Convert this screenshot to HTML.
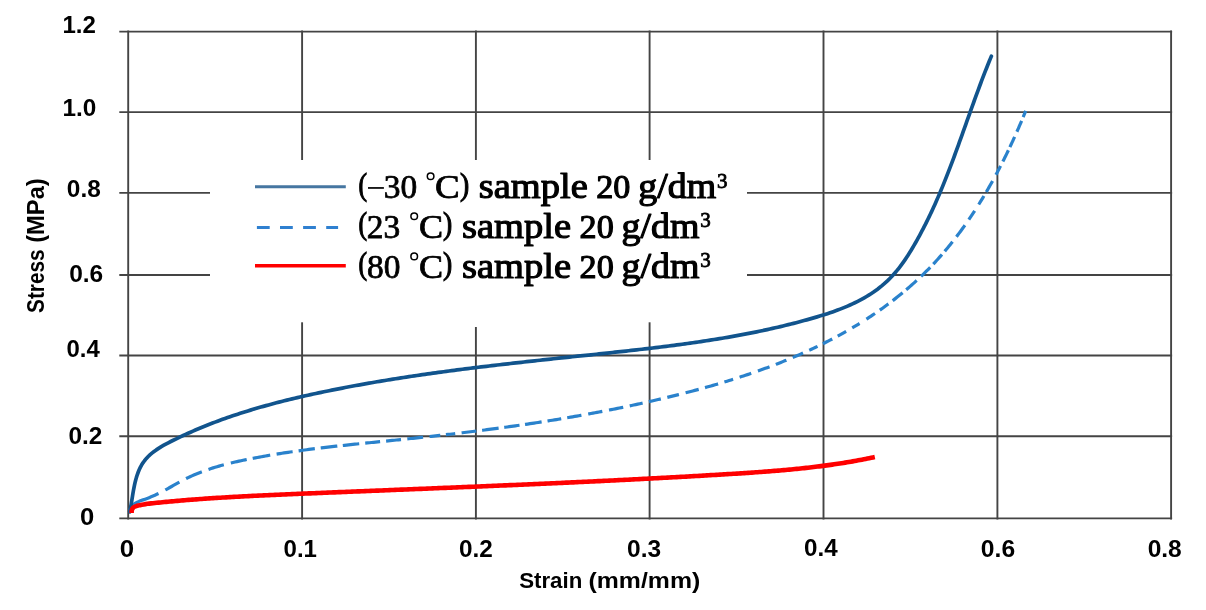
<!DOCTYPE html>
<html><head><meta charset="utf-8"><style>
html,body{margin:0;padding:0;background:#fff;}
body{width:1206px;height:610px;overflow:hidden;}
svg{display:block;will-change:transform;filter:blur(0.5px);}
text{fill:#000;}
</style></head><body>
<svg width="1206" height="610" viewBox="0 0 1206 610">
<rect x="0" y="0" width="1206" height="610" fill="#fff"/>
<g stroke="#444444" stroke-width="1.9" fill="none">
<line x1="119.3" y1="31.6" x2="1172.1" y2="31.6"/>
<line x1="119.3" y1="112.1" x2="1172.1" y2="112.1"/>
<line x1="119.3" y1="192.9" x2="1172.1" y2="192.9"/>
<line x1="119.3" y1="275.0" x2="1172.1" y2="275.0"/>
<line x1="119.3" y1="355.5" x2="1172.1" y2="355.5"/>
<line x1="119.3" y1="436.2" x2="1172.1" y2="436.2"/>
<line x1="119.3" y1="518.4" x2="1172.1" y2="518.4"/>
<line x1="128.2" y1="30.6" x2="128.2" y2="519.4"/>
<line x1="302.1" y1="30.6" x2="302.1" y2="519.4"/>
<line x1="475.9" y1="30.6" x2="475.9" y2="519.4"/>
<line x1="649.6" y1="30.6" x2="649.6" y2="519.4"/>
<line x1="823.5" y1="30.6" x2="823.5" y2="519.4"/>
<line x1="997.4" y1="30.6" x2="997.4" y2="519.4"/>
<line x1="1171.1" y1="30.6" x2="1171.1" y2="519.4"/>
</g>
<rect x="210" y="160" width="537" height="162.3" fill="#fff"/>
<rect x="473" y="320" width="6" height="7" fill="#fff"/>
<g fill="none" stroke-linejoin="round" stroke-linecap="round">
<path d="M129.47,510.88 L130.16,508.81 L131.14,507.04 L132.38,505.53 L133.83,504.24 L135.47,503.14 L137.26,502.18 L139.16,501.35 L141.13,500.59 L143.14,499.87 L145.16,499.15 L147.15,498.41 L149.12,497.64 L151.07,496.85 L152.99,496.03 L154.90,495.18 L156.79,494.30 L158.67,493.40 L160.54,492.47 L162.40,491.51 L164.25,490.53 L166.09,489.54 L167.93,488.53 L169.76,487.51 L171.59,486.49 L173.41,485.47 L175.24,484.44 L177.07,483.42 L178.90,482.41 L180.73,481.41 L182.57,480.43 L184.42,479.47 L186.27,478.53 L188.14,477.61 L190.01,476.73 L191.89,475.87 L193.78,475.03 L195.68,474.22 L197.58,473.43 L199.50,472.67 L201.42,471.93 L203.35,471.20 L205.28,470.50 L207.22,469.83 L209.17,469.17 L211.13,468.52 L213.09,467.90 L215.06,467.30 L217.03,466.71 L219.01,466.14 L221.00,465.58 L222.99,465.04 L224.98,464.51 L226.98,464.00 L228.98,463.49 L230.99,463.01 L233.00,462.53 L235.02,462.06 L237.03,461.60 L239.05,461.16 L241.08,460.72 L243.10,460.29 L245.13,459.87 L247.16,459.45 L249.19,459.04 L251.23,458.64 L253.26,458.24 L255.30,457.85 L257.34,457.46 L259.38,457.08 L261.43,456.71 L263.47,456.34 L265.52,455.98 L267.57,455.62 L269.61,455.27 L271.67,454.92 L273.72,454.58 L275.77,454.24 L277.83,453.91 L279.88,453.58 L281.94,453.26 L284.00,452.94 L286.06,452.63 L288.12,452.32 L290.19,452.02 L292.25,451.72 L294.31,451.42 L296.38,451.13 L298.45,450.84 L300.52,450.56 L302.58,450.28 L304.65,450.00 L306.72,449.73 L308.80,449.46 L310.87,449.20 L312.94,448.93 L315.02,448.68 L317.09,448.42 L319.16,448.17 L321.24,447.92 L323.66,447.63 L325.74,447.39 L327.82,447.14 L329.90,446.91 L331.97,446.67 L334.05,446.43 L336.13,446.20 L338.21,445.97 L340.29,445.75 L342.37,445.52 L344.45,445.30 L346.53,445.07 L348.61,444.85 L350.69,444.63 L352.77,444.42 L354.85,444.20 L356.93,443.99 L359.01,443.77 L361.09,443.56 L363.17,443.35 L365.25,443.14 L367.33,442.93 L369.41,442.72 L371.49,442.51 L373.56,442.30 L375.64,442.09 L377.72,441.88 L379.80,441.68 L381.87,441.47 L383.95,441.26 L386.03,441.05 L388.10,440.85 L390.18,440.64 L392.25,440.43 L394.32,440.22 L396.39,440.01 L398.46,439.80 L400.54,439.59 L402.60,439.38 L404.67,439.17 L406.74,438.95 L408.81,438.74 L410.87,438.52 L412.94,438.31 L415.00,438.09 L417.07,437.87 L419.13,437.65 L421.19,437.43 L423.25,437.21 L425.32,436.99 L427.38,436.76 L429.43,436.54 L431.49,436.31 L433.55,436.08 L435.61,435.86 L437.66,435.63 L439.72,435.40 L441.77,435.16 L443.83,434.93 L445.88,434.70 L447.93,434.46 L449.99,434.22 L452.04,433.98 L454.09,433.74 L456.14,433.50 L458.19,433.26 L460.24,433.02 L462.29,432.77 L464.34,432.52 L466.38,432.28 L468.43,432.03 L470.48,431.77 L472.52,431.52 L474.57,431.27 L476.61,431.01 L478.66,430.75 L480.70,430.49 L482.74,430.23 L484.79,429.97 L486.83,429.71 L488.87,429.44 L490.91,429.17 L492.95,428.90 L494.99,428.63 L497.03,428.36 L499.07,428.09 L501.11,427.81 L503.15,427.53 L505.19,427.25 L507.23,426.97 L509.27,426.69 L511.30,426.40 L513.34,426.11 L515.38,425.82 L517.42,425.53 L519.45,425.24 L521.49,424.94 L523.52,424.65 L525.56,424.35 L527.59,424.05 L529.97,423.69 L532.00,423.39 L534.04,423.08 L536.07,422.77 L538.11,422.46 L540.14,422.14 L542.17,421.82 L544.21,421.51 L546.24,421.18 L548.27,420.86 L550.31,420.54 L552.34,420.21 L554.37,419.88 L556.40,419.55 L558.44,419.21 L560.47,418.87 L562.50,418.53 L564.53,418.19 L566.57,417.85 L568.60,417.50 L570.63,417.15 L572.66,416.80 L574.69,416.45 L576.73,416.09 L578.76,415.73 L580.79,415.37 L582.82,415.01 L584.85,414.64 L586.89,414.27 L588.92,413.90 L590.95,413.52 L592.98,413.15 L595.01,412.77 L597.05,412.38 L599.08,412.00 L601.11,411.61 L603.14,411.22 L605.18,410.83 L607.21,410.43 L609.24,410.03 L611.28,409.63 L613.31,409.22 L615.34,408.82 L617.38,408.41 L619.41,407.99 L621.44,407.58 L623.48,407.16 L625.51,406.73 L627.55,406.31 L629.58,405.88 L631.62,405.45 L633.65,405.01 L635.69,404.58 L637.73,404.14 L639.76,403.69 L641.80,403.25 L643.84,402.80 L645.87,402.34 L647.91,401.89 L649.95,401.43 L651.99,400.96 L654.03,400.50 L656.06,400.03 L658.10,399.56 L660.14,399.08 L662.18,398.60 L664.22,398.12 L666.26,397.63 L668.30,397.14 L670.34,396.65 L672.38,396.15 L674.41,395.65 L676.45,395.14 L678.49,394.64 L680.53,394.12 L682.56,393.61 L684.60,393.09 L686.63,392.56 L688.67,392.03 L690.70,391.50 L692.73,390.96 L694.77,390.42 L696.80,389.88 L698.83,389.33 L700.86,388.77 L702.88,388.21 L704.91,387.65 L706.94,387.08 L708.96,386.51 L710.98,385.94 L713.01,385.36 L715.03,384.77 L717.05,384.18 L719.06,383.58 L721.08,382.99 L723.09,382.38 L725.10,381.77 L727.12,381.16 L729.12,380.54 L731.13,379.91 L733.47,379.18 L735.47,378.54 L737.47,377.90 L739.47,377.26 L741.47,376.60 L743.46,375.95 L745.45,375.29 L747.44,374.62 L749.43,373.95 L751.41,373.27 L753.40,372.58 L755.38,371.89 L757.35,371.20 L759.33,370.50 L761.30,369.79 L763.27,369.08 L765.23,368.36 L767.20,367.64 L769.16,366.91 L771.11,366.17 L773.07,365.43 L775.02,364.68 L776.97,363.93 L778.91,363.17 L780.85,362.40 L782.79,361.63 L784.72,360.85 L786.65,360.07 L788.58,359.28 L790.50,358.48 L792.43,357.67 L794.34,356.86 L796.25,356.05 L798.16,355.22 L800.07,354.39 L801.97,353.55 L803.87,352.71 L805.76,351.86 L807.65,351.00 L809.53,350.14 L811.41,349.26 L813.29,348.39 L815.16,347.50 L817.03,346.61 L818.89,345.71 L820.75,344.80 L822.61,343.89 L824.46,342.97 L826.30,342.04 L828.14,341.10 L829.98,340.16 L831.81,339.21 L833.63,338.25 L835.45,337.28 L837.27,336.31 L839.08,335.33 L840.89,334.34 L842.69,333.34 L844.48,332.34 L846.27,331.33 L848.06,330.31 L849.84,329.28 L851.61,328.25 L853.38,327.20 L855.14,326.15 L856.90,325.09 L858.65,324.02 L860.40,322.95 L862.14,321.86 L863.87,320.77 L865.60,319.67 L867.32,318.56 L869.04,317.44 L870.75,316.32 L872.46,315.18 L874.15,314.04 L875.85,312.89 L877.53,311.73 L879.21,310.56 L880.88,309.38 L882.55,308.19 L884.21,307.00 L885.86,305.79 L887.51,304.58 L889.15,303.36 L890.78,302.13 L892.41,300.89 L894.03,299.64 L895.64,298.38 L897.25,297.11 L898.85,295.84 L900.44,294.55 L902.02,293.25 L903.60,291.95 L905.17,290.63 L906.74,289.31 L908.29,287.98 L909.84,286.63 L911.38,285.28 L912.91,283.92 L914.69,282.32 L916.21,280.94 L917.72,279.54 L919.22,278.14 L920.71,276.73 L922.20,275.30 L923.68,273.87 L925.15,272.43 L926.61,270.98 L928.06,269.51 L929.51,268.04 L930.94,266.56 L932.37,265.06 L933.79,263.56 L935.20,262.05 L936.61,260.52 L938.00,258.99 L939.39,257.44 L940.77,255.89 L942.14,254.32 L943.50,252.74 L944.85,251.16 L946.20,249.56 L947.53,247.96 L948.86,246.35 L950.18,244.72 L951.49,243.09 L952.79,241.45 L954.08,239.80 L955.37,238.14 L956.65,236.48 L957.92,234.80 L959.18,233.12 L960.43,231.43 L961.67,229.73 L962.91,228.03 L964.14,226.32 L965.35,224.60 L966.57,222.87 L967.77,221.14 L968.96,219.40 L970.15,217.65 L971.33,215.90 L972.50,214.14 L973.66,212.38 L974.81,210.61 L975.96,208.84 L977.10,207.06 L978.23,205.27 L979.35,203.48 L980.46,201.68 L981.57,199.88 L982.67,198.08 L983.76,196.27 L984.84,194.46 L985.91,192.64 L986.98,190.82 L988.04,188.99 L989.09,187.16 L990.13,185.33 L991.16,183.50 L992.19,181.66 L993.21,179.82 L994.22,177.98 L995.22,176.13 L996.22,174.28 L997.21,172.43 L998.19,170.58 L999.16,168.72 L1000.12,166.87 L1001.08,165.01 L1002.03,163.15 L1002.97,161.29 L1003.91,159.43 L1004.83,157.57 L1005.75,155.71 L1006.66,153.85 L1007.56,151.98 L1008.46,150.12 L1009.35,148.26 L1010.23,146.40 L1011.10,144.53 L1011.97,142.67 L1012.83,140.81 L1013.68,138.95 L1014.52,137.09 L1015.36,135.23 L1016.18,133.38 L1017.01,131.52 L1017.82,129.67 L1018.63,127.82 L1019.42,125.97 L1020.22,124.12 L1021.00,122.28 L1021.78,120.44 L1022.55,118.60 L1023.31,116.76 L1024.06,114.93 L1024.81,113.10 L1025.67,110.97" stroke="#2a82cc" stroke-width="3.2" stroke-dasharray="35.08 7.66 16.13 7.57 17.13 7.11 15.97 7.22 16.28 6.12 17.79 6.49 16.19 6.06 16.34 5.94 16.71 5.53 16.49 6.03 14.97 6.03 14.98 6.33 15.89 6.44 10.87 5.64 9.36 6.45 14.81 5.85 16.64 5.65 15.45 5.56 16.79 5.97 13.88 6.08 14.41 6.91 14.35 6.83 14.49 6.64 13.20 6.45 12.21 6.68 11.94 6.91 13.55 6.53 13.63 6.58 9.11 6.82 12.23 7.10 12.35 6.74 11.41 6.82 11.23 6.81 9.17 6.01 10.44 6.23 9.60 7.05 8.52 8.15 10.31 5.84 10.62 5.39 12.66 4.69 14.02 5.89 12.96 4.49 12.81 4.29 12.31 6.35 14.35 6.83 10.64 7.44 9.95 4.71 12.52 7.09 10.09 5.06 12.47 3.49 11.21 5.64 11.87 4.15 6.54 5000.00" stroke-linecap="butt"/>
<path d="M129.74,511.82 L130.25,509.35 L130.73,506.82 L131.18,504.23 L131.62,501.60 L132.04,498.93 L132.48,496.23 L132.92,493.52 L133.39,490.80 L133.89,488.08 L134.44,485.36 L135.03,482.67 L135.70,480.00 L136.43,477.37 L137.25,474.78 L138.17,472.25 L139.18,469.78 L140.31,467.38 L141.57,465.06 L142.96,462.84 L144.49,460.71 L146.16,458.69 L147.97,456.76 L149.90,454.92 L151.93,453.17 L154.06,451.49 L156.28,449.89 L158.58,448.36 L160.94,446.88 L163.35,445.47 L165.80,444.10 L168.28,442.79 L170.78,441.51 L173.29,440.26 L175.80,439.05 L178.28,437.86 L180.76,436.69 L183.22,435.54 L185.67,434.41 L188.11,433.30 L190.54,432.21 L192.98,431.13 L195.41,430.07 L197.84,429.03 L200.28,428.00 L202.72,426.99 L205.17,425.99 L207.63,425.00 L210.10,424.03 L212.57,423.07 L215.06,422.12 L217.54,421.19 L220.04,420.26 L222.54,419.35 L225.05,418.46 L227.57,417.57 L230.09,416.70 L232.62,415.84 L235.15,414.99 L237.69,414.15 L240.24,413.32 L242.79,412.50 L245.35,411.70 L247.91,410.90 L250.48,410.12 L253.05,409.34 L255.62,408.58 L258.21,407.83 L260.79,407.08 L263.38,406.35 L265.98,405.63 L268.58,404.91 L271.18,404.21 L273.79,403.51 L276.40,402.82 L279.01,402.14 L281.63,401.47 L284.25,400.81 L286.88,400.16 L289.50,399.51 L292.13,398.88 L294.76,398.25 L297.40,397.62 L300.04,397.01 L302.67,396.40 L305.32,395.80 L307.96,395.21 L310.60,394.62 L313.25,394.04 L315.90,393.47 L318.55,392.90 L321.20,392.34 L323.85,391.79 L326.50,391.24 L329.16,390.70 L331.81,390.16 L334.46,389.63 L337.12,389.10 L339.77,388.58 L342.43,388.06 L345.08,387.55 L347.74,387.04 L350.40,386.54 L353.06,386.05 L355.71,385.55 L358.37,385.07 L361.03,384.59 L363.69,384.11 L366.35,383.64 L369.01,383.17 L371.67,382.71 L374.33,382.25 L377.00,381.79 L379.66,381.34 L382.32,380.90 L384.98,380.46 L387.65,380.02 L390.31,379.59 L392.98,379.16 L395.64,378.73 L398.31,378.31 L400.97,377.90 L403.64,377.48 L406.30,377.07 L408.97,376.67 L411.64,376.27 L414.30,375.87 L416.97,375.48 L419.64,375.09 L422.31,374.70 L424.98,374.31 L427.65,373.93 L430.32,373.56 L432.99,373.18 L435.66,372.81 L438.33,372.44 L441.00,372.08 L443.67,371.72 L446.34,371.36 L449.02,371.00 L451.69,370.65 L454.36,370.30 L457.04,369.95 L459.71,369.61 L462.38,369.27 L465.06,368.93 L467.73,368.59 L470.41,368.26 L473.08,367.93 L475.76,367.60 L478.43,367.27 L481.11,366.94 L483.78,366.62 L486.46,366.30 L489.14,365.98 L491.81,365.66 L494.49,365.35 L497.17,365.03 L499.85,364.72 L502.53,364.41 L505.20,364.10 L507.88,363.80 L510.56,363.49 L513.24,363.19 L515.92,362.89 L518.60,362.59 L521.28,362.29 L523.96,361.99 L526.64,361.69 L529.32,361.40 L532.00,361.10 L534.68,360.81 L537.36,360.52 L540.04,360.23 L542.72,359.94 L545.40,359.65 L548.08,359.36 L550.77,359.07 L553.45,358.78 L556.13,358.49 L558.81,358.21 L561.49,357.92 L564.18,357.64 L566.86,357.35 L569.54,357.07 L572.22,356.78 L574.91,356.50 L577.59,356.21 L580.27,355.93 L582.96,355.64 L585.64,355.36 L588.32,355.08 L591.01,354.79 L593.69,354.51 L596.37,354.22 L599.06,353.94 L601.74,353.65 L604.43,353.36 L607.11,353.08 L609.79,352.79 L612.48,352.50 L615.16,352.21 L617.85,351.92 L620.53,351.63 L623.21,351.33 L625.90,351.04 L628.58,350.74 L631.26,350.44 L633.95,350.14 L636.63,349.84 L639.31,349.53 L641.99,349.22 L644.68,348.91 L647.36,348.60 L650.04,348.29 L652.72,347.97 L655.40,347.64 L658.08,347.32 L660.76,346.99 L663.44,346.66 L666.12,346.32 L668.79,345.99 L671.47,345.64 L674.15,345.30 L676.82,344.94 L679.50,344.59 L682.17,344.23 L684.85,343.86 L687.52,343.50 L690.19,343.12 L692.87,342.74 L695.54,342.36 L698.21,341.97 L700.88,341.57 L703.54,341.17 L706.21,340.77 L708.88,340.36 L711.54,339.94 L714.21,339.52 L716.87,339.09 L719.53,338.65 L722.20,338.21 L724.86,337.76 L727.52,337.31 L730.17,336.84 L732.83,336.37 L735.49,335.90 L738.14,335.41 L740.80,334.92 L743.45,334.42 L746.10,333.92 L748.75,333.40 L751.40,332.88 L754.04,332.35 L756.69,331.82 L759.33,331.27 L761.98,330.71 L764.62,330.15 L767.26,329.58 L769.89,329.00 L772.53,328.41 L775.17,327.81 L777.80,327.20 L780.43,326.58 L783.06,325.96 L785.69,325.32 L788.32,324.67 L790.94,324.02 L793.57,323.35 L796.19,322.67 L798.81,321.99 L801.43,321.29 L804.04,320.58 L806.66,319.86 L809.27,319.13 L811.88,318.39 L814.49,317.64 L817.09,316.87 L819.69,316.09 L822.28,315.29 L824.86,314.47 L827.44,313.64 L830.00,312.78 L832.56,311.90 L835.10,311.00 L837.63,310.07 L840.15,309.12 L842.64,308.14 L845.13,307.13 L847.59,306.09 L850.04,305.02 L852.47,303.91 L854.87,302.77 L857.26,301.60 L859.62,300.39 L861.95,299.14 L864.26,297.85 L866.55,296.51 L868.80,295.14 L871.03,293.72 L873.23,292.26 L875.39,290.75 L877.53,289.19 L879.63,287.58 L881.70,285.92 L883.73,284.21 L885.72,282.44 L887.68,280.62 L889.59,278.74 L891.47,276.81 L893.31,274.82 L895.11,272.77 L896.87,270.68 L898.59,268.54 L900.28,266.35 L901.93,264.13 L903.55,261.88 L905.13,259.59 L906.68,257.27 L908.21,254.93 L909.70,252.57 L911.16,250.20 L912.60,247.81 L914.01,245.41 L915.39,243.00 L916.75,240.59 L918.09,238.19 L919.40,235.79 L920.70,233.39 L921.97,230.99 L923.22,228.60 L924.45,226.21 L925.66,223.82 L926.86,221.43 L928.04,219.03 L929.20,216.64 L930.34,214.25 L931.47,211.85 L932.59,209.45 L933.69,207.05 L934.78,204.64 L935.86,202.23 L936.92,199.81 L937.98,197.38 L939.02,194.94 L940.06,192.50 L941.09,190.05 L942.11,187.59 L943.12,185.12 L944.12,182.65 L945.12,180.16 L946.11,177.67 L947.09,175.18 L948.07,172.67 L949.04,170.16 L950.01,167.65 L950.96,165.12 L951.92,162.60 L952.87,160.07 L953.81,157.53 L954.75,154.99 L955.69,152.45 L956.62,149.90 L957.55,147.35 L958.48,144.79 L959.40,142.24 L960.33,139.68 L961.25,137.12 L962.16,134.56 L963.08,131.99 L964.00,129.43 L964.91,126.86 L965.82,124.30 L966.74,121.73 L967.65,119.17 L968.56,116.60 L969.48,114.04 L970.39,111.48 L971.31,108.92 L972.23,106.36 L973.15,103.81 L974.07,101.25 L975.00,98.70 L975.92,96.16 L976.85,93.62 L977.79,91.08 L978.73,88.54 L979.67,86.01 L980.61,83.49 L981.56,80.97 L982.52,78.46 L983.48,75.95 L984.45,73.45 L985.42,70.95 L986.40,68.47 L987.38,65.99 L988.37,63.52 L989.37,61.05 L990.37,58.60 L991.39,56.15" stroke="#11548d" stroke-width="3.7"/>
<path d="M131.63,513.05 L131.65,510.90 L132.20,509.05 L133.23,507.60 L134.70,506.66 L136.43,506.06 L138.21,505.57 L140.01,505.13 L141.82,504.74 L143.66,504.41 L145.51,504.11 L147.36,503.84 L149.23,503.61 L151.11,503.39 L152.98,503.18 L154.86,502.99 L156.74,502.80 L158.62,502.61 L160.50,502.42 L162.38,502.23 L164.26,502.05 L166.14,501.87 L168.02,501.69 L169.90,501.52 L171.78,501.35 L173.66,501.18 L175.53,501.01 L177.41,500.85 L179.29,500.69 L181.17,500.53 L183.05,500.37 L184.92,500.22 L186.80,500.06 L188.68,499.91 L190.56,499.77 L192.44,499.62 L194.31,499.48 L196.19,499.34 L198.07,499.20 L199.95,499.06 L201.82,498.92 L203.70,498.79 L205.58,498.66 L207.45,498.53 L209.33,498.40 L211.21,498.28 L213.09,498.15 L214.96,498.03 L216.84,497.91 L218.72,497.79 L220.59,497.68 L222.47,497.56 L224.35,497.45 L226.22,497.33 L228.10,497.22 L229.97,497.11 L231.85,497.01 L233.73,496.90 L235.60,496.79 L237.48,496.69 L239.36,496.59 L241.23,496.49 L243.11,496.39 L244.98,496.29 L246.86,496.19 L248.74,496.10 L250.61,496.00 L252.49,495.91 L254.37,495.81 L256.24,495.72 L258.12,495.63 L259.99,495.54 L261.87,495.45 L263.74,495.36 L265.62,495.27 L267.50,495.19 L269.37,495.10 L271.25,495.02 L273.12,494.93 L275.00,494.85 L276.88,494.76 L278.75,494.68 L280.63,494.60 L282.50,494.52 L284.38,494.44 L286.26,494.36 L288.13,494.28 L290.01,494.20 L291.88,494.12 L293.76,494.04 L295.64,493.96 L297.51,493.88 L299.39,493.80 L301.26,493.72 L303.14,493.64 L305.02,493.57 L306.89,493.49 L308.77,493.41 L310.65,493.33 L312.52,493.25 L314.40,493.18 L316.28,493.10 L318.15,493.02 L320.03,492.94 L321.90,492.87 L323.78,492.79 L325.66,492.71 L327.53,492.64 L329.41,492.56 L331.29,492.48 L333.16,492.40 L335.04,492.33 L336.92,492.25 L338.80,492.17 L340.67,492.10 L342.55,492.02 L344.43,491.94 L346.30,491.87 L348.18,491.79 L350.06,491.72 L351.93,491.64 L353.81,491.56 L355.69,491.49 L357.56,491.41 L359.44,491.34 L361.32,491.26 L363.20,491.18 L365.07,491.11 L366.95,491.03 L368.83,490.96 L370.70,490.88 L372.58,490.80 L374.46,490.73 L376.34,490.65 L378.21,490.58 L380.09,490.50 L381.97,490.43 L383.85,490.35 L385.72,490.27 L387.60,490.20 L389.48,490.12 L391.36,490.05 L393.23,489.97 L395.11,489.90 L396.99,489.82 L398.87,489.74 L400.74,489.67 L402.62,489.59 L404.50,489.52 L406.38,489.44 L408.25,489.37 L410.13,489.29 L412.01,489.21 L413.89,489.14 L415.76,489.06 L417.64,488.99 L419.52,488.91 L421.40,488.83 L423.28,488.76 L425.15,488.68 L427.03,488.61 L428.91,488.53 L430.79,488.45 L432.66,488.38 L434.54,488.30 L436.42,488.22 L438.30,488.15 L440.18,488.07 L442.05,487.99 L443.93,487.92 L445.81,487.84 L447.69,487.76 L449.57,487.69 L451.44,487.61 L453.32,487.53 L455.20,487.46 L457.08,487.38 L458.96,487.30 L460.83,487.22 L462.71,487.15 L464.59,487.07 L466.47,486.99 L468.35,486.91 L470.22,486.84 L472.10,486.76 L473.98,486.68 L475.86,486.60 L477.74,486.52 L479.61,486.44 L481.49,486.37 L483.37,486.29 L485.25,486.21 L487.13,486.13 L489.01,486.05 L490.88,485.97 L492.76,485.89 L494.64,485.81 L496.52,485.73 L498.40,485.65 L500.27,485.57 L502.15,485.49 L504.03,485.41 L505.91,485.33 L507.79,485.25 L509.67,485.17 L511.54,485.09 L513.42,485.01 L515.30,484.93 L517.18,484.85 L519.06,484.77 L520.94,484.69 L522.81,484.60 L524.69,484.52 L526.57,484.44 L528.45,484.36 L530.33,484.28 L532.20,484.19 L534.08,484.11 L535.96,484.03 L537.84,483.94 L539.72,483.86 L541.60,483.78 L543.47,483.69 L545.35,483.61 L547.23,483.53 L549.11,483.44 L550.99,483.36 L552.87,483.27 L554.74,483.19 L556.62,483.10 L558.50,483.02 L560.38,482.93 L562.26,482.85 L564.13,482.76 L566.01,482.67 L567.89,482.59 L569.77,482.50 L571.65,482.41 L573.53,482.33 L575.40,482.24 L577.28,482.15 L579.16,482.06 L581.04,481.98 L582.92,481.89 L584.79,481.80 L586.67,481.71 L588.55,481.62 L590.43,481.53 L592.31,481.44 L594.18,481.35 L596.06,481.26 L597.94,481.17 L599.82,481.08 L601.70,480.99 L603.57,480.90 L605.45,480.81 L607.33,480.72 L609.21,480.62 L611.09,480.53 L612.96,480.44 L614.84,480.35 L616.72,480.25 L618.60,480.16 L620.48,480.07 L622.35,479.97 L624.23,479.88 L626.11,479.78 L627.99,479.69 L629.87,479.59 L631.74,479.50 L633.62,479.40 L635.50,479.30 L637.38,479.21 L639.26,479.11 L641.13,479.01 L643.01,478.92 L644.89,478.82 L646.77,478.72 L648.64,478.62 L650.52,478.52 L652.40,478.42 L654.28,478.32 L656.15,478.23 L658.03,478.13 L659.91,478.02 L661.79,477.92 L663.67,477.82 L665.54,477.72 L667.42,477.62 L669.30,477.52 L671.18,477.41 L673.05,477.31 L674.93,477.21 L676.81,477.10 L678.69,477.00 L680.56,476.90 L682.44,476.79 L684.32,476.69 L686.19,476.58 L688.07,476.47 L689.95,476.37 L691.83,476.26 L693.70,476.15 L695.58,476.05 L697.46,475.94 L699.34,475.83 L701.21,475.72 L703.09,475.61 L704.97,475.50 L706.84,475.39 L708.72,475.28 L710.60,475.17 L712.47,475.06 L714.35,474.95 L716.23,474.84 L718.11,474.73 L719.98,474.61 L721.86,474.50 L723.74,474.39 L725.61,474.27 L727.49,474.16 L729.37,474.04 L731.24,473.93 L733.12,473.81 L735.00,473.69 L736.87,473.58 L738.75,473.46 L740.63,473.34 L742.50,473.22 L744.38,473.09 L746.25,472.97 L748.13,472.85 L750.00,472.72 L751.88,472.59 L753.76,472.46 L755.63,472.33 L757.51,472.20 L759.38,472.06 L761.25,471.93 L763.13,471.79 L765.00,471.65 L766.88,471.51 L768.75,471.36 L770.62,471.22 L772.50,471.07 L774.37,470.91 L776.24,470.76 L778.11,470.60 L779.99,470.45 L781.86,470.28 L783.73,470.12 L785.60,469.95 L787.47,469.78 L789.34,469.61 L791.21,469.43 L793.08,469.25 L794.95,469.07 L796.82,468.88 L798.69,468.69 L800.55,468.50 L802.42,468.30 L804.29,468.10 L806.15,467.90 L808.02,467.69 L809.89,467.48 L811.75,467.26 L813.62,467.04 L815.48,466.82 L817.34,466.59 L819.21,466.36 L821.07,466.12 L822.93,465.88 L824.79,465.63 L826.65,465.38 L828.51,465.13 L830.37,464.87 L832.23,464.60 L834.09,464.33 L835.95,464.06 L837.81,463.78 L839.66,463.50 L841.52,463.21 L843.38,462.91 L845.23,462.61 L847.09,462.31 L848.94,462.00 L850.79,461.68 L852.64,461.36 L854.50,461.03 L856.35,460.70 L858.20,460.36 L860.05,460.01 L861.90,459.66 L863.74,459.30 L865.59,458.94 L867.44,458.57 L869.28,458.19 L871.13,457.81 L872.97,457.42 L874.82,457.02" stroke="#ff0000" stroke-width="4.6" stroke-linecap="butt"/>
</g>
<g fill="none">
<line x1="255" y1="186.7" x2="345.8" y2="186.7" stroke="#4676a1" stroke-width="3"/>
<line x1="256.9" y1="227.6" x2="338.1" y2="227.6" stroke="#2f80d0" stroke-width="3" stroke-dasharray="12.8 10.3"/>
<line x1="255" y1="265.8" x2="345.8" y2="265.8" stroke="#ff0000" stroke-width="3.4"/>
</g>
<text x="62.48" y="33.40" font-family="Liberation Sans" font-weight="bold" font-size="24.50" textLength="33.48" lengthAdjust="spacingAndGlyphs">1.2</text>
<text x="62.47" y="115.70" font-family="Liberation Sans" font-weight="bold" font-size="24.50" textLength="33.83" lengthAdjust="spacingAndGlyphs">1.0</text>
<text x="66.84" y="197.10" font-family="Liberation Sans" font-weight="bold" font-size="24.50" textLength="33.92" lengthAdjust="spacingAndGlyphs">0.8</text>
<text x="69.13" y="282.10" font-family="Liberation Sans" font-weight="bold" font-size="24.50" textLength="34.05" lengthAdjust="spacingAndGlyphs">0.6</text>
<text x="66.55" y="357.40" font-family="Liberation Sans" font-weight="bold" font-size="24.50" textLength="33.28" lengthAdjust="spacingAndGlyphs">0.4</text>
<text x="68.54" y="443.50" font-family="Liberation Sans" font-weight="bold" font-size="24.50" textLength="33.84" lengthAdjust="spacingAndGlyphs">0.2</text>
<text x="80.09" y="525.10" font-family="Liberation Sans" font-weight="bold" font-size="24.50" textLength="14.27" lengthAdjust="spacingAndGlyphs">0</text>
<text x="119.78" y="556.90" font-family="Liberation Sans" font-weight="bold" font-size="24.50" textLength="14.38" lengthAdjust="spacingAndGlyphs">0</text>
<text x="283.55" y="557.10" font-family="Liberation Sans" font-weight="bold" font-size="24.50" textLength="33.42" lengthAdjust="spacingAndGlyphs">0.1</text>
<text x="459.04" y="556.50" font-family="Liberation Sans" font-weight="bold" font-size="24.50" textLength="33.84" lengthAdjust="spacingAndGlyphs">0.2</text>
<text x="627.03" y="557.00" font-family="Liberation Sans" font-weight="bold" font-size="24.50" textLength="34.05" lengthAdjust="spacingAndGlyphs">0.3</text>
<text x="804.04" y="556.10" font-family="Liberation Sans" font-weight="bold" font-size="24.50" textLength="33.59" lengthAdjust="spacingAndGlyphs">0.4</text>
<text x="980.83" y="557.00" font-family="Liberation Sans" font-weight="bold" font-size="24.50" textLength="34.27" lengthAdjust="spacingAndGlyphs">0.6</text>
<text x="1147.63" y="557.00" font-family="Liberation Sans" font-weight="bold" font-size="24.50" textLength="34.13" lengthAdjust="spacingAndGlyphs">0.8</text>
<text x="519.16" y="587.60" font-family="Liberation Sans" font-weight="bold" font-size="21.60" textLength="63.12" lengthAdjust="spacingAndGlyphs">Strain</text>
<text x="588.56" y="587.60" font-family="Liberation Sans" font-weight="bold" font-size="21.60" textLength="111.67" lengthAdjust="spacingAndGlyphs">(mm/mm)</text>
<g transform="translate(44.2,491.8) rotate(-90)"><text x="178.80" y="0.00" font-family="Liberation Sans" font-weight="bold" font-size="23.50" textLength="63.65" lengthAdjust="spacingAndGlyphs">Stress</text><text x="249.02" y="0.00" font-family="Liberation Sans" font-weight="bold" font-size="23.50" textLength="64.56" lengthAdjust="spacingAndGlyphs">(MPa)</text></g>
<text x="358.47" y="194.70" font-family="Liberation Serif" font-weight="normal" font-size="31.00" textLength="8.56" lengthAdjust="spacingAndGlyphs" stroke="#000" stroke-width="1.1">(</text>
<text x="383.68" y="198.20" font-family="Liberation Serif" font-weight="normal" font-size="33.00" textLength="33.42" lengthAdjust="spacingAndGlyphs" stroke="#000" stroke-width="0.75">30</text>
<circle cx="430.6" cy="176.2" r="3.30" fill="none" stroke="#000" stroke-width="1.50"/>
<text x="434.96" y="198.20" font-family="Liberation Serif" font-weight="normal" font-size="33.00" textLength="24.71" lengthAdjust="spacingAndGlyphs" stroke="#000" stroke-width="0.75">C</text>
<text x="460.01" y="194.70" font-family="Liberation Serif" font-weight="normal" font-size="31.00" textLength="9.21" lengthAdjust="spacingAndGlyphs" stroke="#000" stroke-width="1.1">)</text>
<text x="478.70" y="198.20" font-family="Liberation Serif" font-weight="normal" font-size="36.00" textLength="109.06" lengthAdjust="spacingAndGlyphs" stroke="#000" stroke-width="1.15" stroke-linejoin="round">sample</text>
<text x="596.27" y="198.20" font-family="Liberation Serif" font-weight="normal" font-size="34.00" textLength="34.15" lengthAdjust="spacingAndGlyphs" stroke="#000" stroke-width="1.15" stroke-linejoin="round">20</text>
<text x="638.25" y="198.20" font-family="Liberation Serif" font-weight="normal" font-size="36.00" textLength="77.97" lengthAdjust="spacingAndGlyphs" stroke="#000" stroke-width="1.15" stroke-linejoin="round">g/dm</text>
<text x="716.89" y="187.80" font-family="Liberation Serif" font-weight="normal" font-size="22.00" textLength="10.53" lengthAdjust="spacingAndGlyphs" stroke="#000" stroke-width="0.8">3</text>
<text x="358.47" y="234.10" font-family="Liberation Serif" font-weight="normal" font-size="31.00" textLength="8.56" lengthAdjust="spacingAndGlyphs" stroke="#000" stroke-width="1.1">(</text>
<text x="366.81" y="237.60" font-family="Liberation Serif" font-weight="normal" font-size="33.00" textLength="33.42" lengthAdjust="spacingAndGlyphs" stroke="#000" stroke-width="0.75">23</text>
<circle cx="414.2" cy="216.2" r="3.30" fill="none" stroke="#000" stroke-width="1.50"/>
<text x="419.09" y="237.60" font-family="Liberation Serif" font-weight="normal" font-size="33.00" textLength="24.13" lengthAdjust="spacingAndGlyphs" stroke="#000" stroke-width="0.75">C</text>
<text x="443.11" y="234.10" font-family="Liberation Serif" font-weight="normal" font-size="31.00" textLength="9.21" lengthAdjust="spacingAndGlyphs" stroke="#000" stroke-width="1.1">)</text>
<text x="462.00" y="237.60" font-family="Liberation Serif" font-weight="normal" font-size="36.00" textLength="109.06" lengthAdjust="spacingAndGlyphs" stroke="#000" stroke-width="1.15" stroke-linejoin="round">sample</text>
<text x="579.57" y="237.60" font-family="Liberation Serif" font-weight="normal" font-size="34.00" textLength="34.15" lengthAdjust="spacingAndGlyphs" stroke="#000" stroke-width="1.15" stroke-linejoin="round">20</text>
<text x="621.55" y="237.60" font-family="Liberation Serif" font-weight="normal" font-size="36.00" textLength="77.97" lengthAdjust="spacingAndGlyphs" stroke="#000" stroke-width="1.15" stroke-linejoin="round">g/dm</text>
<text x="700.19" y="227.20" font-family="Liberation Serif" font-weight="normal" font-size="22.00" textLength="10.53" lengthAdjust="spacingAndGlyphs" stroke="#000" stroke-width="0.8">3</text>
<text x="358.47" y="274.10" font-family="Liberation Serif" font-weight="normal" font-size="31.00" textLength="8.56" lengthAdjust="spacingAndGlyphs" stroke="#000" stroke-width="1.1">(</text>
<text x="367.00" y="277.60" font-family="Liberation Serif" font-weight="normal" font-size="33.00" textLength="33.39" lengthAdjust="spacingAndGlyphs" stroke="#000" stroke-width="0.75">80</text>
<circle cx="414.2" cy="256.4" r="3.30" fill="none" stroke="#000" stroke-width="1.50"/>
<text x="419.09" y="277.60" font-family="Liberation Serif" font-weight="normal" font-size="33.00" textLength="24.13" lengthAdjust="spacingAndGlyphs" stroke="#000" stroke-width="0.75">C</text>
<text x="443.11" y="274.10" font-family="Liberation Serif" font-weight="normal" font-size="31.00" textLength="9.21" lengthAdjust="spacingAndGlyphs" stroke="#000" stroke-width="1.1">)</text>
<text x="462.00" y="277.60" font-family="Liberation Serif" font-weight="normal" font-size="36.00" textLength="109.06" lengthAdjust="spacingAndGlyphs" stroke="#000" stroke-width="1.15" stroke-linejoin="round">sample</text>
<text x="579.57" y="277.60" font-family="Liberation Serif" font-weight="normal" font-size="34.00" textLength="34.15" lengthAdjust="spacingAndGlyphs" stroke="#000" stroke-width="1.15" stroke-linejoin="round">20</text>
<text x="621.55" y="277.60" font-family="Liberation Serif" font-weight="normal" font-size="36.00" textLength="77.97" lengthAdjust="spacingAndGlyphs" stroke="#000" stroke-width="1.15" stroke-linejoin="round">g/dm</text>
<text x="700.19" y="267.20" font-family="Liberation Serif" font-weight="normal" font-size="22.00" textLength="10.53" lengthAdjust="spacingAndGlyphs" stroke="#000" stroke-width="0.8">3</text>
<rect x="368" y="187.1" width="15.9" height="1.7" fill="#000"/>
</svg>
</body></html>
